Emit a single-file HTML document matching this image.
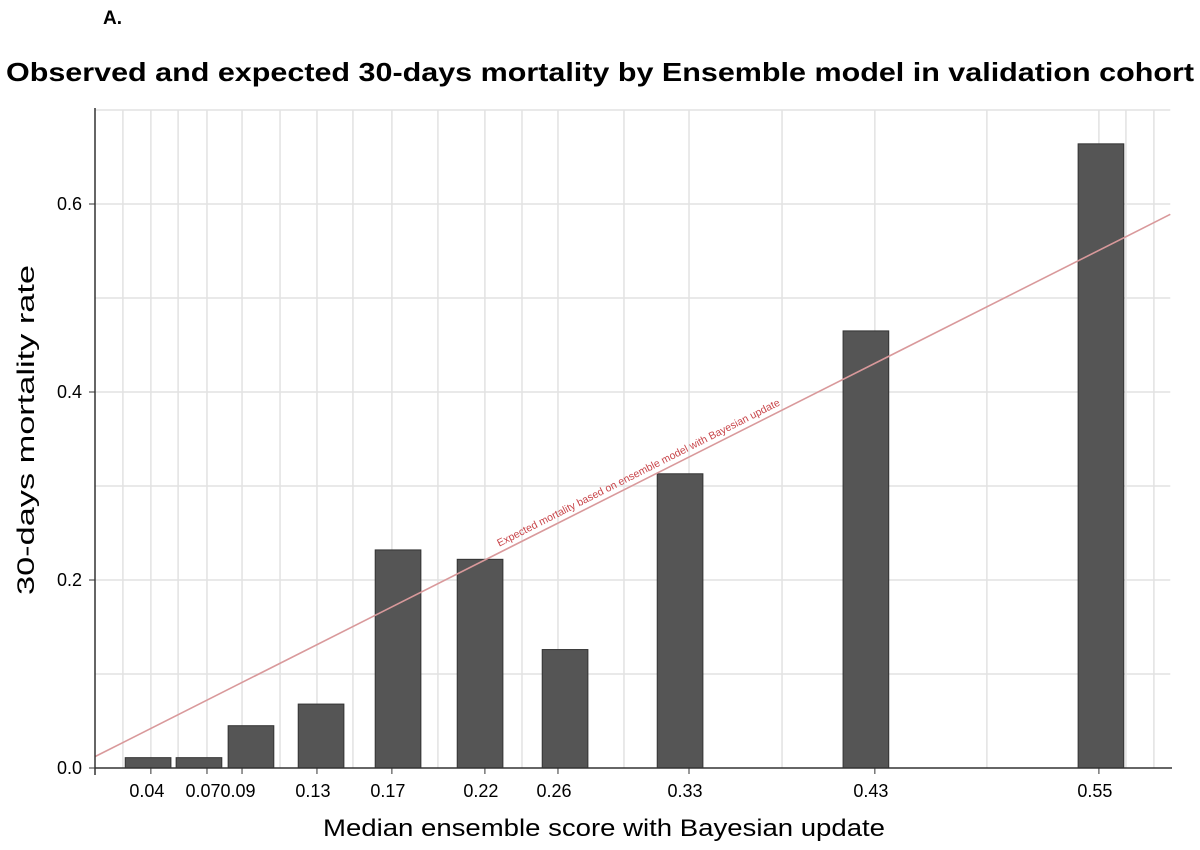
<!DOCTYPE html>
<html><head><meta charset="utf-8"><style>
body{margin:0;background:#fff;}
text{font-family:"Liberation Sans",sans-serif;}
</style></head><body>
<svg id="chart" width="1200" height="845" xmlns="http://www.w3.org/2000/svg">
<text x="103" y="24" font-size="19" font-weight="bold">A.</text>
<text x="6" y="81" font-size="26" font-weight="bold" textLength="1188" lengthAdjust="spacingAndGlyphs">Observed and expected 30-days mortality by Ensemble model in validation cohort</text>
<g id="grid"></g>
<g id="bars"></g>
<g id="axes"></g>
<text x="323" y="836" font-size="24" textLength="562" lengthAdjust="spacingAndGlyphs">Median ensemble score with Bayesian update</text>
<text transform="translate(34,430) rotate(-90)" font-size="24" text-anchor="middle" textLength="330" lengthAdjust="spacingAndGlyphs">30-days mortality rate</text>
</svg>
<script>
const barX = [0.0406,0.0679,0.0958,0.1334,0.1747,0.2187,0.2643,0.326,0.4257,0.5518];
const barValues = [0.011,0.011,0.045,0.068,0.232,0.222,0.126,0.313,0.465,0.664];
const tickValues = [0.0421,0.0722,0.0910,0.1312,0.1714,0.2213,0.2605,0.3308,0.4305,0.5507];
const tickLabels = ["0.04","0.07","0.09","0.13","0.17","0.22","0.26","0.33","0.43","0.55"];
const extraGrid = [0.0271,0.0567,0.1114,0.1505,0.1961,0.2412,0.2959,0.3807,0.4906,0.5652,0.5802];
const yTicks = [0,0.2,0.4,0.6];
const yGrid = [0.1,0.2,0.3,0.4,0.5,0.6,0.7];
const xMin=0.0121, xMax=0.589;
const NS="http://www.w3.org/2000/svg";
const X=v=>72.4+1864*v;
const Y=v=>768-940*v;
function mk(tag,attrs,parent,txt){const e=document.createElementNS(NS,tag);for(const k in attrs)e.setAttribute(k,attrs[k]);if(txt!==undefined)e.textContent=txt;parent.appendChild(e);return e;}
const grid=document.getElementById('grid'),bars=document.getElementById('bars'),axes=document.getElementById('axes');
yGrid.forEach(v=>{const l=mk('line',{x1:X(xMin),x2:X(xMax),y1:Y(v),y2:Y(v),stroke:'#e2e2e2','stroke-width':1.5},grid);

});
tickValues.concat(extraGrid).forEach(v=>{const l=mk('line',{x1:X(v),x2:X(v),y1:Y(0.7),y2:Y(0),stroke:'#e2e2e2','stroke-width':1.5},grid);

});
const bw=0.0245*1864;
barX.forEach((v,i)=>{const r=mk('rect',{x:X(v)-bw/2,y:Y(barValues[i]),width:bw,height:Y(0)-Y(barValues[i]),fill:'#555',stroke:'#333','stroke-width':1},bars);

});
const ln=mk('line',{x1:X(xMin),y1:Y(xMin),x2:X(xMax),y2:Y(xMax),stroke:'#d9999b','stroke-width':1.6},bars);


const ang=Math.atan2(Y(0)-Y(1),X(1)-X(0))*180/Math.PI;
const ax=X(0.229),ay=Y(0.229)-6;
const at=mk('text',{x:ax,y:ay,'font-size':10.5,fill:'#c8454a',transform:`rotate(${-ang} ${ax} ${ay})`},bars,'Expected mortality based on ensemble model with Bayesian update');


mk('line',{x1:95,x2:95,y1:108,y2:775,stroke:'#333','stroke-width':1.5},axes);
mk('line',{x1:95,x2:1172,y1:768,y2:768,stroke:'#333','stroke-width':1.5},axes);
yTicks.forEach(v=>{mk('line',{x1:89,x2:95,y1:Y(v),y2:Y(v),stroke:'#333'},axes);
const t=mk('text',{x:82,y:Y(v)+6,'font-size':18,'text-anchor':'end'},axes,v.toFixed(1));

});
tickValues.forEach((v,i)=>{mk('line',{x1:X(v),x2:X(v),y1:768,y2:774,stroke:'#333'},axes);
const t=mk('text',{x:X(v)-4,y:797,'font-size':18,'text-anchor':'middle'},axes,tickLabels[i]);

});
</script>
</body></html>
